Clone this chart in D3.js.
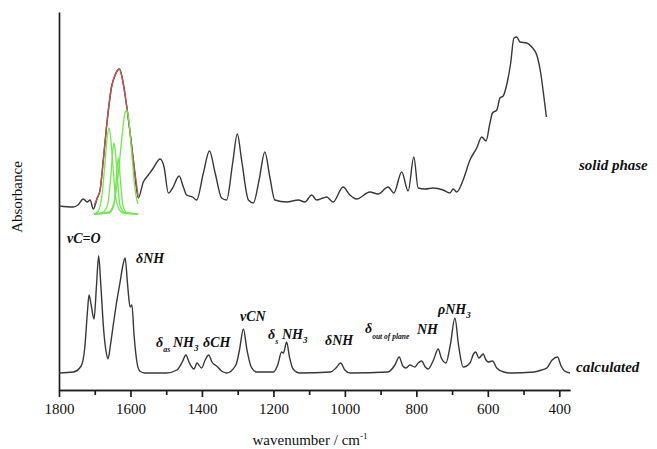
<!DOCTYPE html>
<html>
  <head>
    <meta charset="utf-8">
    <script src="https://cdn.jsdelivr.net/npm/d3@7"></script>
    <style>
        body { margin: 0; background: #fff; }
    </style>
  </head>

  <body>
    <div id="my_dataviz"></div>
  </body>

  <script>

    // wavenumber (cm-1), absorbance (arbitrary units, offset traces)
    let solidPhase = [
      [1800,1.84],[1760,1.83],[1747,1.85],[1732,1.91],[1721,1.88],[1713,1.90],[1704,1.81],[1693,1.92],
      [1685,2.00],[1676,2.30],[1665,2.70],[1653,3.03],[1643,3.15],[1631,3.21],[1622,3.10],[1613,2.90],
      [1603,2.63],[1592,2.30],[1578,1.92],[1564,2.08],[1550,2.15],[1536,2.22],[1517,2.31],[1506,2.23],
      [1494,1.97],[1482,2.02],[1464,2.14],[1452,2.03],[1443,1.95],[1426,1.93],[1415,1.90],[1396,2.17],
      [1379,2.39],[1363,2.17],[1345,1.92],[1331,1.90],[1314,2.27],[1301,2.56],[1289,2.30],[1270,1.90],
      [1256,1.87],[1240,2.10],[1224,2.38],[1210,2.13],[1196,1.90],[1163,1.88],[1130,1.90],[1112,1.88],
      [1093,1.95],[1079,1.90],[1061,1.92],[1051,1.93],[1033,1.88],[1005,2.03],[986,1.95],[967,1.91],
      [930,1.98],[907,1.96],[879,2.03],[863,1.97],[841,2.18],[823,1.99],[807,2.33],[795,2.02],
      [776,2.01],[753,2.02],[725,2.00],[706,1.97],[697,2.01],[687,1.98],[669,2.10],[650,2.30],
      [631,2.42],[617,2.53],[605,2.49],[594,2.67],[587,2.77],[575,2.80],[566,2.92],[557,2.94],
      [546,3.07],[536,3.27],[527,3.52],[519,3.53],[510,3.48],[491,3.47],[477,3.43],[463,3.35],
      [452,3.17],[443,2.93],[436,2.73]
    ];

    let calculated = [
      [1800,0.17],[1760,0.18],[1738,0.24],[1728,0.42],[1720,0.80],[1716,0.95],[1710,0.85],[1702,0.71],[1695,1.05],
      [1689,1.34],[1683,1.05],[1675,0.60],[1668,0.38],[1663,0.31],[1656,0.45],[1649,0.63],[1640,0.85],
      [1629,1.08],[1621,1.25],[1615,1.32],[1608,1.05],[1601,0.83],[1596,0.85],[1590,0.55],[1582,0.28],
      [1574,0.19],[1560,0.17],[1500,0.17],[1470,0.20],[1455,0.28],[1445,0.35],[1435,0.27],[1422,0.21],
      [1414,0.27],[1401,0.22],[1391,0.30],[1381,0.35],[1372,0.28],[1359,0.24],[1345,0.19],[1331,0.17],
      [1305,0.25],[1295,0.40],[1284,0.61],[1274,0.40],[1262,0.23],[1247,0.18],[1200,0.18],[1188,0.25],
      [1177,0.38],[1172,0.37],[1163,0.48],[1155,0.33],[1145,0.21],[1126,0.17],[1040,0.18],[1025,0.22],
      [1012,0.27],[1000,0.20],[985,0.17],[880,0.18],[860,0.25],[848,0.33],[838,0.24],[829,0.22],
      [818,0.25],[804,0.23],[795,0.27],[785,0.29],[775,0.23],[767,0.21],[752,0.30],[739,0.41],
      [730,0.32],[717,0.27],[705,0.45],[692,0.72],[682,0.45],[669,0.23],[650,0.27],[640,0.36],
      [634,0.38],[625,0.32],[613,0.36],[605,0.30],[599,0.28],[587,0.29],[575,0.22],[555,0.18],
      [538,0.17],[470,0.18],[450,0.20],[435,0.22],[420,0.30],[405,0.33],[395,0.24],[385,0.19],[370,0.17]
    ];

    // fitted envelope of the carbonyl / NH band
    let fitEnvelope = [
      [1701,1.85],[1693,1.92],[1685,2.00],[1676,2.30],[1665,2.70],[1653,3.03],[1643,3.15],[1631,3.21],
      [1622,3.10],[1613,2.90],[1603,2.63],[1592,2.30],[1578,1.92]
    ];

    // fitted components
    let fitBand1 = [[1702,1.76],[1690,1.79],[1680,1.94],[1672,2.24],[1666,2.50],[1660,2.62],[1655,2.51],[1649,2.24],[1642,1.94],[1632,1.81],[1620,1.77],[1579,1.76]];
    let fitBand2 = [[1702,1.76],[1680,1.77],[1665,1.84],[1656,2.09],[1650,2.37],[1646,2.47],[1642,2.37],[1636,2.09],[1629,1.84],[1614,1.77],[1579,1.76]];
    let fitBand3 = [[1702,1.76],[1660,1.77],[1647,1.84],[1640,2.09],[1634,2.32],[1628,2.09],[1621,1.84],[1609,1.77],[1579,1.76]];
    let fitBand4 = [[1702,1.76],[1660,1.78],[1645,1.89],[1635,2.14],[1625,2.49],[1617,2.74],[1611,2.80],[1605,2.71],[1597,2.39],[1589,2.06],[1582,1.90],[1579,1.86]];

    let majorTicks = [1800, 1600, 1400, 1200, 1000, 800, 600, 400];
    let minorTicks = [1700, 1500, 1300, 1100, 900, 700, 500];

    let serif = "'Liberation Serif', 'DejaVu Serif', serif";
    let width = 657, height = 449;
    let plot = {left: 59, right: 570, top: 12, bottom: 390};

    let svg = d3.select("#my_dataviz")
                .append("svg")
                    .attr("width", width)
                    .attr("height", height);

    let x = d3.scaleLinear()
              .domain([1800, 370])
              .range([plot.left, plot.right]);

    let y = d3.scaleLinear()
              .domain([0, 3.78])
              .range([plot.bottom, plot.top]);

    // axes
    let xMajor = svg.append("g")
       .attr("transform", "translate(0," + plot.bottom + ")")
       .call(d3.axisBottom(x).tickValues(majorTicks).tickFormat(d3.format("d"))
               .tickSize(7).tickSizeOuter(0).tickPadding(6));

    svg.append("g")
       .attr("transform", "translate(0," + plot.bottom + ")")
       .call(d3.axisBottom(x).tickValues(minorTicks).tickSize(5).tickSizeOuter(0).tickFormat(""));

    svg.append("g")
       .attr("transform", "translate(" + plot.left + ",0)")
       .call(d3.axisLeft(y).tickValues([]).tickSizeOuter(0));

    svg.selectAll(".domain, .tick line")
       .attr("stroke", "#1e1e1e")
       .attr("stroke-width", 1.7);

    xMajor.selectAll(".tick text")
       .style("font-family", serif)
       .style("font-size", "15px")
       .attr("fill", "#111");

    let line = d3.line()
                 .curve(d3.curveMonotoneX)
                 .x(function(d) { return x(d[0]) })
                 .y(function(d) { return y(d[1]) });

    function trace(data, color, w) {
        svg.append("path")
           .datum(data)
           .attr("fill", "none")
           .attr("stroke", color)
           .attr("stroke-width", w)
           .attr("stroke-linejoin", "round")
           .attr("d", line);
    }

    trace(solidPhase, "#383838", 1.4);
    trace(calculated, "#383838", 1.4);
    trace(fitEnvelope, "#c45050", 1.4);
    [fitBand1, fitBand2, fitBand3, fitBand4].forEach(function(b) { trace(b, "#6ee84a", 1.3) });

    // axis titles
    svg.append("text")
       .attr("transform", "translate(22,197) rotate(-90)")
       .attr("text-anchor", "middle")
       .style("font-family", serif)
       .style("font-size", "15px")
       .attr("fill", "#111")
       .text("Absorbance");

    let xt = svg.append("text")
       .attr("x", 310)
       .attr("y", 445)
       .attr("text-anchor", "middle")
       .style("font-family", serif)
       .style("font-size", "15px")
       .attr("fill", "#111");
    xt.append("tspan").text("wavenumber / cm");
    xt.append("tspan").attr("dy", -6).style("font-size", "9px").text("-1");

    // band assignments
    function note(px, py, parts, size) {
        let t = svg.append("text")
                   .attr("x", px).attr("y", py)
                   .attr("fill", "#111")
                   .style("font-family", serif)
                   .style("font-weight", "bold")
                   .style("font-style", "italic")
                   .style("font-size", (size || 14) + "px");
        parts.forEach(function(p) {
            let s = t.append("tspan").text(p.t);
            if (p.sub) s.style("font-size", (p.size || 9) + "px").attr("dy", p.sub);
        });
        return t;
    }

    note(67, 243, [{t: "\u03BDC=O"}]);
    note(136, 263, [{t: "\u03B4NH"}]);
    note(156, 347, [{t: "\u03B4"}, {t: "as", sub: 5, size: 8}]);
    note(173, 347, [{t: "NH"}, {t: "3", sub: 4}]);
    note(203, 347, [{t: "\u03B4CH"}]);
    note(240, 321, [{t: "\u03BDCN"}]);
    note(268, 339, [{t: "\u03B4"}, {t: "s", sub: 5, size: 8}]);
    note(282, 339, [{t: "NH"}, {t: "3", sub: 4}]);
    note(325, 345, [{t: "\u03B4NH"}]);
    note(365, 333, [{t: "\u03B4"}, {t: "out of plane", sub: 6, size: 7.5}]);
    note(417, 334, [{t: "NH"}]);
    note(438, 314, [{t: "\u03C1NH"}, {t: "3", sub: 4}]);

    note(579, 170, [{t: "solid phase"}], 15);
    note(576, 372, [{t: "calculated"}], 15);

  </script>

</html>
